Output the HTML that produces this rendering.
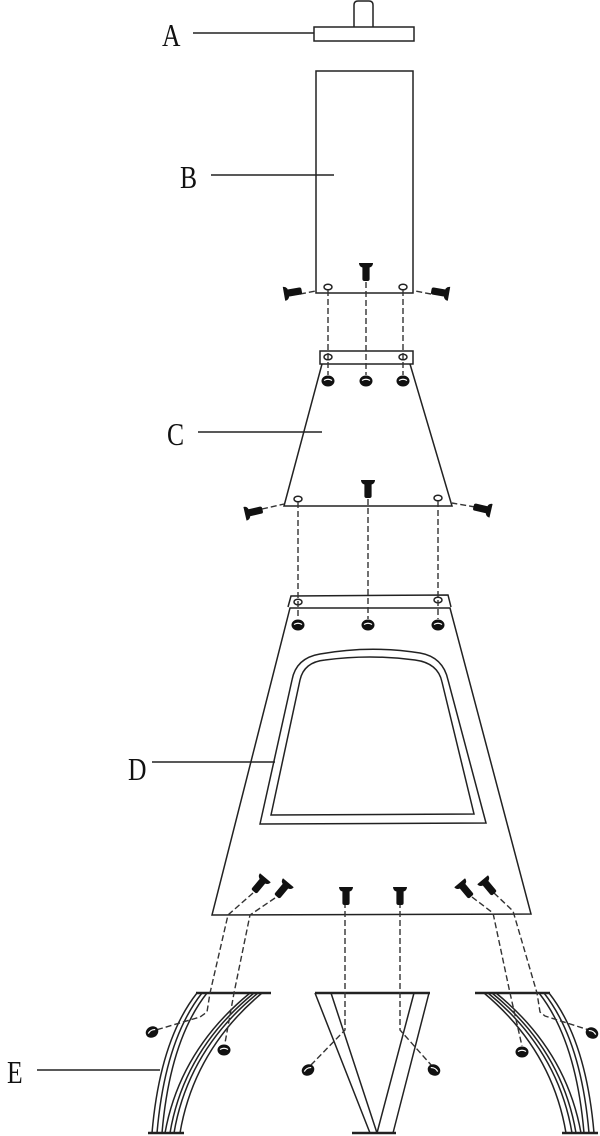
<!DOCTYPE html>
<html><head><meta charset="utf-8"><style>
html,body{margin:0;padding:0;background:#fff;}
svg{display:block;}
text{font-family:"Liberation Serif",serif;font-size:32px;fill:#111;}
</style></head><body>
<svg width="600" height="1136" viewBox="0 0 600 1136" xmlns="http://www.w3.org/2000/svg">
<defs>
<g id="scr"><path d="M1,-7 Q6,-7 6,0 Q6,7 1,7 Z" fill="#111"/><rect x="4" y="-3.6" width="15" height="7.2" rx="2" fill="#111"/></g>
<g id="nut"><ellipse cx="0" cy="0" rx="6.5" ry="5.5" fill="#111"/><path d="M-4,-0.5 Q0,-3 4,-0.5" stroke="#fff" stroke-width="1.2" fill="none"/></g>
</defs>
<g fill="none" stroke="#222" stroke-width="1.5">
<path d="M354,27 V5 Q354,1 358,1 H369 Q373,1 373,5 V27"/>
<rect x="314" y="27" width="100" height="14"/>
<line x1="193" y1="33" x2="314" y2="33"/>
<rect x="316" y="71" width="97" height="222"/>
<line x1="211" y1="175" x2="334" y2="175"/>
<rect x="320" y="351" width="93" height="13"/>
<path d="M322,364 L284,506 L452,506 L410,364"/>
<line x1="198" y1="432" x2="322" y2="432"/>
<path d="M288,607 L291,596 L448,595 L451,607"/>
<path d="M290,608 L212,915 L531,914 L450,608 Z"/>
<path d="M260,824 L292,680 Q296,658 320,654 Q370,645 420,653 Q443,657 448,680 L486,823 Z"/>
<path d="M271,815 L300,680 Q304,662 325,660 Q370,654 415,660 Q438,663 442,682 L474,814 Z"/>
<line x1="152" y1="762" x2="275" y2="762"/>
<line x1="196" y1="993" x2="271" y2="993" stroke-width="2.5"/>
<path d="M197,993 Q160,1040 152,1133"/>
<path d="M202,993 Q165,1040 157,1133"/>
<path d="M207,993 Q170,1040 162,1133"/>
<path d="M250,993 Q180,1050 165,1133"/>
<path d="M254,993 Q184,1050 170,1133"/>
<path d="M258,993 Q188,1050 174,1133"/>
<path d="M262,993 Q194,1050 180,1133"/>
<line x1="148" y1="1133" x2="184" y2="1133" stroke-width="2.5"/>
<line x1="37" y1="1070" x2="160" y2="1070"/>
<g transform="translate(746,0) scale(-1,1)">
<line x1="196" y1="993" x2="271" y2="993" stroke-width="2.5"/>
<path d="M197,993 Q160,1040 152,1133"/>
<path d="M202,993 Q165,1040 157,1133"/>
<path d="M207,993 Q170,1040 162,1133"/>
<path d="M250,993 Q180,1050 165,1133"/>
<path d="M254,993 Q184,1050 170,1133"/>
<path d="M258,993 Q188,1050 174,1133"/>
<path d="M262,993 Q194,1050 180,1133"/>
<line x1="148" y1="1133" x2="184" y2="1133" stroke-width="2.5"/>
</g>
<line x1="315" y1="993" x2="430" y2="993" stroke-width="2.5"/>
<path d="M315,993 L370,1133 M331,993 L377,1133 M414,993 L377,1133 M429,993 L393,1133"/>
<line x1="352" y1="1133" x2="396" y2="1133" stroke-width="2.5"/>
<ellipse cx="328" cy="287" rx="4" ry="2.8"/><ellipse cx="403" cy="287" rx="4" ry="2.8"/>
<ellipse cx="328" cy="357" rx="4" ry="2.8"/><ellipse cx="403" cy="357" rx="4" ry="2.8"/>
<ellipse cx="298" cy="499" rx="4" ry="2.8"/><ellipse cx="438" cy="498" rx="4" ry="2.8"/>
<ellipse cx="298" cy="602" rx="4" ry="2.8"/><ellipse cx="438" cy="600" rx="4" ry="2.8"/>
</g>
<g fill="none" stroke="#333" stroke-width="1.4" stroke-dasharray="6,3">
<path d="M328,290 V375 M403,290 V375 M366,282 V375"/>
<path d="M300,294 L316,291 M431,294 L415,291"/>
<path d="M298,502 V619 M438,501 V619 M368,499 V619"/>
<path d="M262,509 L284,504 M475,507 L452,503"/>
<path d="M253,893 L228,915 L210,993 L207,1012 L200,1017 L156,1030"/>
<path d="M275,898 L250,915 L234,993 L225,1043"/>
<path d="M345,902 V1030 L310,1066"/>
<path d="M400,902 V1030 L432,1066"/>
<path d="M472,897 L493,913 L510,993 L522,1046"/>
<path d="M494,893 L513,911 L537,993 L540,1012 L545,1016 L589,1030"/>
</g>
<use href="#scr" transform="translate(283,294) rotate(-10)"/>
<use href="#scr" transform="translate(450,294) rotate(190)"/>
<use href="#scr" transform="translate(366,262) rotate(90)"/>
<use href="#scr" transform="translate(244,514) rotate(-13)"/>
<use href="#scr" transform="translate(492,511) rotate(193)"/>
<use href="#scr" transform="translate(368,479) rotate(90)"/>
<use href="#scr" transform="translate(266,877) rotate(130)"/>
<use href="#scr" transform="translate(289,882) rotate(130)"/>
<use href="#scr" transform="translate(346,886) rotate(90)"/>
<use href="#scr" transform="translate(400,886) rotate(90)"/>
<use href="#scr" transform="translate(459,882) rotate(50)"/>
<use href="#scr" transform="translate(482,879) rotate(50)"/>
<use href="#nut" transform="translate(328,381)"/><use href="#nut" transform="translate(366,381)"/><use href="#nut" transform="translate(403,381)"/>
<use href="#nut" transform="translate(298,625)"/><use href="#nut" transform="translate(368,625)"/><use href="#nut" transform="translate(438,625)"/>
<use href="#nut" transform="translate(152,1032) rotate(-30)"/>
<use href="#nut" transform="translate(224,1050)"/>
<use href="#nut" transform="translate(308,1070) rotate(-30)"/>
<use href="#nut" transform="translate(434,1070) rotate(30)"/>
<use href="#nut" transform="translate(522,1052)"/>
<use href="#nut" transform="translate(592,1033) rotate(30)"/>
<text x="162" y="46" transform="translate(162,46) scale(0.8,1) translate(-162,-46)">A</text>
<text x="180" y="188" transform="translate(180,188) scale(0.8,1) translate(-180,-188)">B</text>
<text x="167" y="445" transform="translate(167,445) scale(0.8,1) translate(-167,-445)">C</text>
<text x="128" y="780" transform="translate(128,780) scale(0.8,1) translate(-128,-780)">D</text>
<text x="7" y="1083" transform="translate(7,1083) scale(0.8,1) translate(-7,-1083)">E</text>
</svg>
</body></html>
